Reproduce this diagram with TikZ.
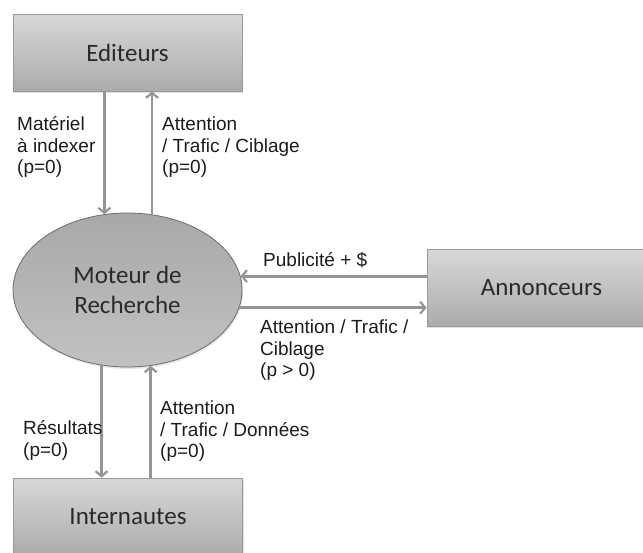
\documentclass[tikz,border=0pt]{standalone}
\usepackage{fontspec}
\setmainfont{Liberation Sans}
\newfontfamily\boxfont{Carlito}
\usetikzlibrary{arrows.meta,shadows,shapes.geometric}
\definecolor{boxtop}{HTML}{D8D8D8}
\definecolor{boxbot}{HTML}{ABABAB}
\definecolor{elltop}{HTML}{A8A8A8}
\definecolor{ellbot}{HTML}{C2C2C2}
\definecolor{edgegray}{HTML}{9A9A9A}
\definecolor{arrgray}{HTML}{959595}
\definecolor{boxtext}{HTML}{2A2A2A}
\definecolor{lbltext}{HTML}{1C1C1C}
\tikzset{
  actor/.style={rectangle, draw=edgegray, line width=0.8pt, top color=boxtop, bottom color=boxbot,
    minimum width=229pt, minimum height=77pt, inner sep=0pt,
    font=\boxfont\fontsize{25}{30}\selectfont, text=boxtext,
    drop shadow={shadow xshift=1pt, shadow yshift=-2pt, opacity=0.25}},
  engine/.style={ellipse, draw=gray!85!black, line width=0.8pt, top color=elltop, bottom color=ellbot,
    minimum width=229pt, minimum height=154pt, inner sep=0pt, align=center,
    font=\boxfont\fontsize{25}{30}\selectfont, text=boxtext,
    drop shadow={shadow xshift=1pt, shadow yshift=-2pt, opacity=0.2}},
  flow/.style={draw=arrgray, line width=2.8pt, -{Straight Barb[length=5pt,width=12pt,line width=2.2pt]}},
  lbl/.style={anchor=north west, inner sep=0pt, align=left, text=lbltext,
    font=\fontsize{19}{21.7}\selectfont}
}
\begin{document}
\begin{tikzpicture}[x=1pt,y=-1pt]
\useasboundingbox (0,0) rectangle (643,552);
\node[actor] (ed) at (127.5,52.5) {Editeurs};
\node[engine] (moteur) at (127.5,290) {Moteur de\\Recherche};
\node[actor] (ann) at (541.5,287.5) {Annonceurs};
\node[actor] (int) at (128,516.5) {\raisebox{-3pt}{Internautes}};

\draw[flow] (ed.south -| moteur.107.3) -- (moteur.107.3);
\draw[flow] (moteur.72.7) -- (ed.south -| moteur.72.7);
\draw[flow] (ann.west |- moteur.7.6) -- (moteur.7.6);
\draw[flow] (moteur.351.3) -- (ann.west |- moteur.351.3);
\draw[flow] (moteur.251.2) -- (int.north -| moteur.251.2);
\draw[flow] (int.north -| moteur.287.3) -- (moteur.287.3);

\node[lbl] (l1) at (17,115) {\strut Matériel\\à indexer\\(p=0)};
\node[lbl] (l2) at (162,115) {\strut Attention\\/ Trafic / Ciblage\\(p=0)};
\node[lbl] (l3) at (263,251) {\strut Publicité + \$};
\node[lbl] (l4) at (260,318) {\strut Attention / Trafic /\\Ciblage\\(p > 0)};
\node[lbl] (l5) at (23,419) {\strut Résultats\\(p=0)};
\node[lbl] (l6) at (160,399) {\strut Attention\\/ Trafic / Données\\(p=0)};
\end{tikzpicture}
\end{document}
